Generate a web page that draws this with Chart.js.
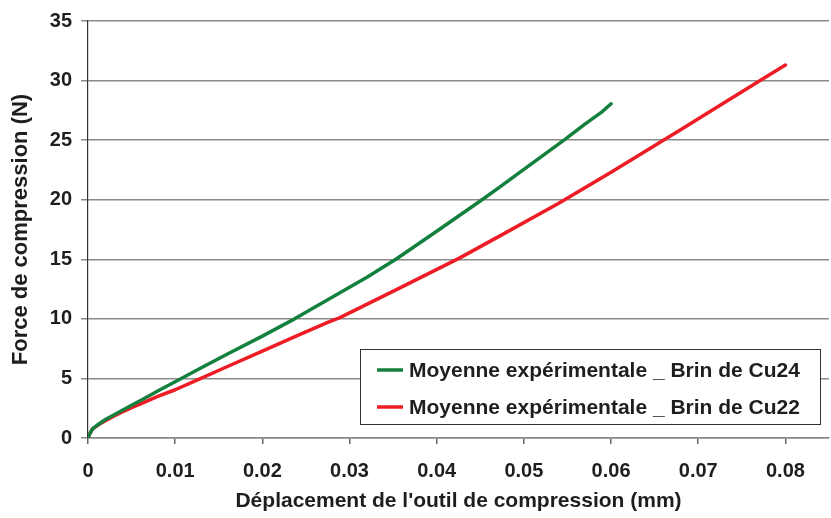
<!DOCTYPE html>
<html lang="fr">
<head>
    <meta charset="UTF-8">
    <title>Force de compression</title>
    <script src="https://cdn.jsdelivr.net/npm/chart.js"></script>
    <style>
        html, body { margin: 0; padding: 0; background: #fff; }
        .chart-container { position: relative; width: 831px; height: 518px; }
    </style>
</head>
<body>
<div class="chart-container">
    <canvas id="compression-chart"></canvas>
</div>
<script>
    // Moyennes expérimentales (déplacement en mm, force en N)
    const cu24X = [0, 0.0002, 0.0005, 0.001, 0.0015, 0.002, 0.003, 0.005, 0.0063, 0.008, 0.0107,
        0.013, 0.016, 0.020, 0.0237, 0.0287, 0.032, 0.0354, 0.040, 0.0452, 0.0471, 0.050,
        0.0546, 0.057, 0.059, 0.060];
    const cu24Y = [0, 0.35, 0.75, 1.05, 1.3, 1.55, 1.95, 2.75, 3.25, 3.95, 5.0,
        5.9, 7.05, 8.55, 10.0, 12.1, 13.5, 15.05, 17.35, 20.0, 21.0, 22.55,
        25.0, 26.35, 27.4, 28.05];

    const cu22X = [0, 0.0002, 0.0005, 0.001, 0.0015, 0.002, 0.003, 0.004, 0.005, 0.0063, 0.008, 0.010,
        0.0125, 0.016, 0.020, 0.024, 0.0275, 0.0289, 0.0355, 0.0426, 0.0471, 0.054,
        0.060, 0.066, 0.0677, 0.072, 0.0771, 0.080];
    const cu22Y = [0, 0.35, 0.75, 1.0, 1.25, 1.45, 1.85, 2.2, 2.55, 2.95, 3.5, 4.05,
        4.85, 6.0, 7.3, 8.6, 9.7, 10.1, 12.5, 15.1, 16.9, 19.7,
        22.3, 25.0, 25.75, 27.7, 30.0, 31.3];

    const xTicks = [0, 0.01, 0.02, 0.03, 0.04, 0.05, 0.06, 0.07, 0.08];
    const yTicks = [0, 5, 10, 15, 20, 25, 30, 35];

    const seriesLabels = [
        'Moyenne expérimentale _ Brin de Cu24',
        'Moyenne expérimentale _ Brin de Cu22'
    ];

    const fontFamily = '"Liberation Sans", Arial, sans-serif';
    const textColor = '#1e1e1e';

    function toPoints(xs, ys) {
        return xs.map((x, i) => ({x: x, y: ys[i]}));
    }

    // Légende encadrée dans le coin bas droit de la zone de tracé
    const encartLegende = {
        id: 'encartLegende',
        afterDraw(chart) {
            const ctx = chart.ctx;
            const area = chart.chartArea;
            const w = 461, h = 76;
            const left = area.right - 8 - w;
            const top = area.bottom - 13 - h;
            ctx.save();
            ctx.fillStyle = '#fff';
            ctx.fillRect(left, top, w, h);
            ctx.strokeStyle = '#333';
            ctx.lineWidth = 1;
            ctx.strokeRect(left + 0.5, top + 0.5, w - 1, h - 1);
            ctx.font = 'bold 21px ' + fontFamily;
            ctx.textBaseline = 'middle';
            chart.data.datasets.forEach((ds, i) => {
                const y = top + 21 + i * 37;
                ctx.strokeStyle = ds.borderColor;
                ctx.lineWidth = 3.5;
                ctx.beginPath();
                ctx.moveTo(left + 17, y);
                ctx.lineTo(left + 43, y);
                ctx.stroke();
                ctx.fillStyle = textColor;
                ctx.fillText(ds.label, left + 49, y + 1);
            });
            ctx.restore();
        }
    };

    const ctx = document.getElementById('compression-chart').getContext('2d');
    const compressionChart = new Chart(ctx, {
        type: 'line',
        data: {
            datasets: [{
                label: seriesLabels[0],
                data: toPoints(cu24X, cu24Y),
                borderColor: '#14803e',
                borderWidth: 3.5,
                pointRadius: 0,
                tension: 0,
                borderCapStyle: 'round',
                borderJoinStyle: 'round'
            }, {
                label: seriesLabels[1],
                data: toPoints(cu22X, cu22Y),
                borderColor: '#ee1c24',
                borderWidth: 3.5,
                pointRadius: 0,
                tension: 0,
                borderCapStyle: 'round',
                borderJoinStyle: 'round'
            }]
        },
        options: {
            responsive: true,
            maintainAspectRatio: false,
            animation: false,
            layout: {
                padding: {top: 18, right: 2, left: 0, bottom: 0}
            },
            scales: {
                x: {
                    type: 'linear',
                    min: 0,
                    max: 0.085,
                    afterBuildTicks: (scale) => {
                        scale.ticks = xTicks.map(v => ({value: v}));
                    },
                    afterFit: (scale) => { scale.height = 80; },
                    grid: {
                        drawOnChartArea: false,
                        drawTicks: true,
                        tickLength: 6,
                        color: '#666',
                        lineWidth: 1.5
                    },
                    border: {color: '#888', width: 1.5},
                    ticks: {
                        padding: 15,
                        color: textColor,
                        maxRotation: 0,
                        font: {family: fontFamily, size: 20, weight: 'bold'},
                        callback: (v) => v === 0 ? '0' : v.toFixed(2)
                    },
                    title: {
                        display: true,
                        text: "Déplacement de l'outil de compression (mm)",
                        color: textColor,
                        font: {family: fontFamily, size: 21, weight: 'bold'},
                        padding: {top: 0, bottom: 4}
                    }
                },
                y: {
                    min: 0,
                    max: 35,
                    afterBuildTicks: (scale) => {
                        scale.ticks = yTicks.map(v => ({value: v}));
                    },
                    afterFit: (scale) => { scale.width = 88; },
                    grid: {
                        color: '#8a8a8a',
                        lineWidth: 1.5,
                        tickLength: 7
                    },
                    border: {color: '#333', width: 1.2},
                    ticks: {
                        padding: 9,
                        color: textColor,
                        font: {family: fontFamily, size: 20, weight: 'bold'}
                    },
                    title: {
                        display: true,
                        text: 'Force de compression (N)',
                        color: textColor,
                        font: {family: fontFamily, size: 22, weight: 'bold'},
                        padding: {top: 8, bottom: 0}
                    }
                }
            },
            plugins: {
                legend: {display: false},
                tooltip: {enabled: false}
            }
        },
        plugins: [encartLegende]
    });
</script>
</body>
</html>
